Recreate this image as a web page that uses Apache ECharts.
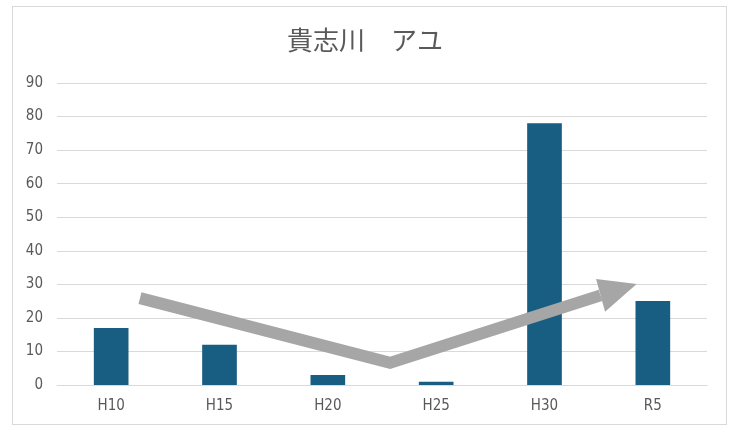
<!DOCTYPE html>
<html>
<head>
<meta charset="utf-8">
<script src="https://cdn.jsdelivr.net/npm/echarts@6/dist/echarts.min.js"></script>
<style>
  html, body { margin: 0; padding: 0; background: #fff; }
  #frame { position: absolute; left: 12px; top: 6px; width: 715px; height: 419px; border: 1px solid #d9d9d9; box-sizing: border-box; }
  #chart { width: 730px; height: 428px; }
</style>
</head>
<body>
<div id="frame"></div>
<div id="chart"></div>
<script>
// Survey years and counts
const categories = ['H10', 'H15', 'H20', 'H25', 'H30', 'R5'];
const counts = [17, 12, 3, 1, 78, 25];
const yTicks = [0, 10, 20, 30, 40, 50, 60, 70, 80, 90];

// Trend arrow, in (category position, value) units
const arrowShaft = [[0.266, 25.9], [2.574, 6.6], [4.517, 26.7]];
const arrowHead = [[4.476, 31.6], [4.851, 30.1], [4.559, 21.8]];

const textColor = '#595959';
const font = '"DejaVu Sans Condensed", "Liberation Sans Narrow", sans-serif';

const chart = echarts.init(document.getElementById('chart'), null, { renderer: 'canvas' });
chart.setOption({
  animation: false,
  backgroundColor: 'transparent',
  title: {
    text: '貴志川　アユ',
    left: 'center',
    top: 22,
    textStyle: { color: textColor, fontSize: 26, fontWeight: 'normal', fontFamily: '"Noto Sans CJK JP", sans-serif' }
  },
  grid: { left: 57, right: 23, top: 83, bottom: 43 },
  xAxis: [
    {
      type: 'category',
      data: categories,
      axisLine: { show: true, lineStyle: { color: '#d9d9d9' } },
      axisTick: { show: false },
      axisLabel: { color: textColor, fontSize: 15, fontFamily: font, margin: 14 }
    },
    {
      type: 'value',
      min: -0.5,
      max: categories.length - 0.5,
      show: false
    }
  ],
  yAxis: {
    type: 'value',
    min: yTicks[0],
    max: yTicks[yTicks.length - 1],
    interval: 10,
    axisLine: { show: false },
    axisTick: { show: false },
    splitLine: { lineStyle: { color: '#d9d9d9', width: 1 } },
    axisLabel: { color: textColor, fontSize: 15, fontFamily: font, margin: 14 }
  },
  series: [
    {
      type: 'bar',
      data: counts,
      barWidth: '32%',
      itemStyle: { color: '#185d82' }
    },
    {
      type: 'custom',
      xAxisIndex: 1,
      data: [[0, 0]],
      z: 10,
      renderItem: function (params, api) {
        const shaft = arrowShaft.map(p => api.coord(p));
        const head = arrowHead.map(p => api.coord(p));
        return {
          type: 'group',
          children: [
            {
              type: 'polyline',
              shape: { points: shaft },
              style: { stroke: '#a6a6a6', lineWidth: 12, fill: null, lineJoin: 'miter', lineCap: 'butt' }
            },
            {
              type: 'polygon',
              shape: { points: head },
              style: { fill: '#a6a6a6' }
            }
          ]
        };
      }
    }
  ]
});
</script>
</body>
</html>
